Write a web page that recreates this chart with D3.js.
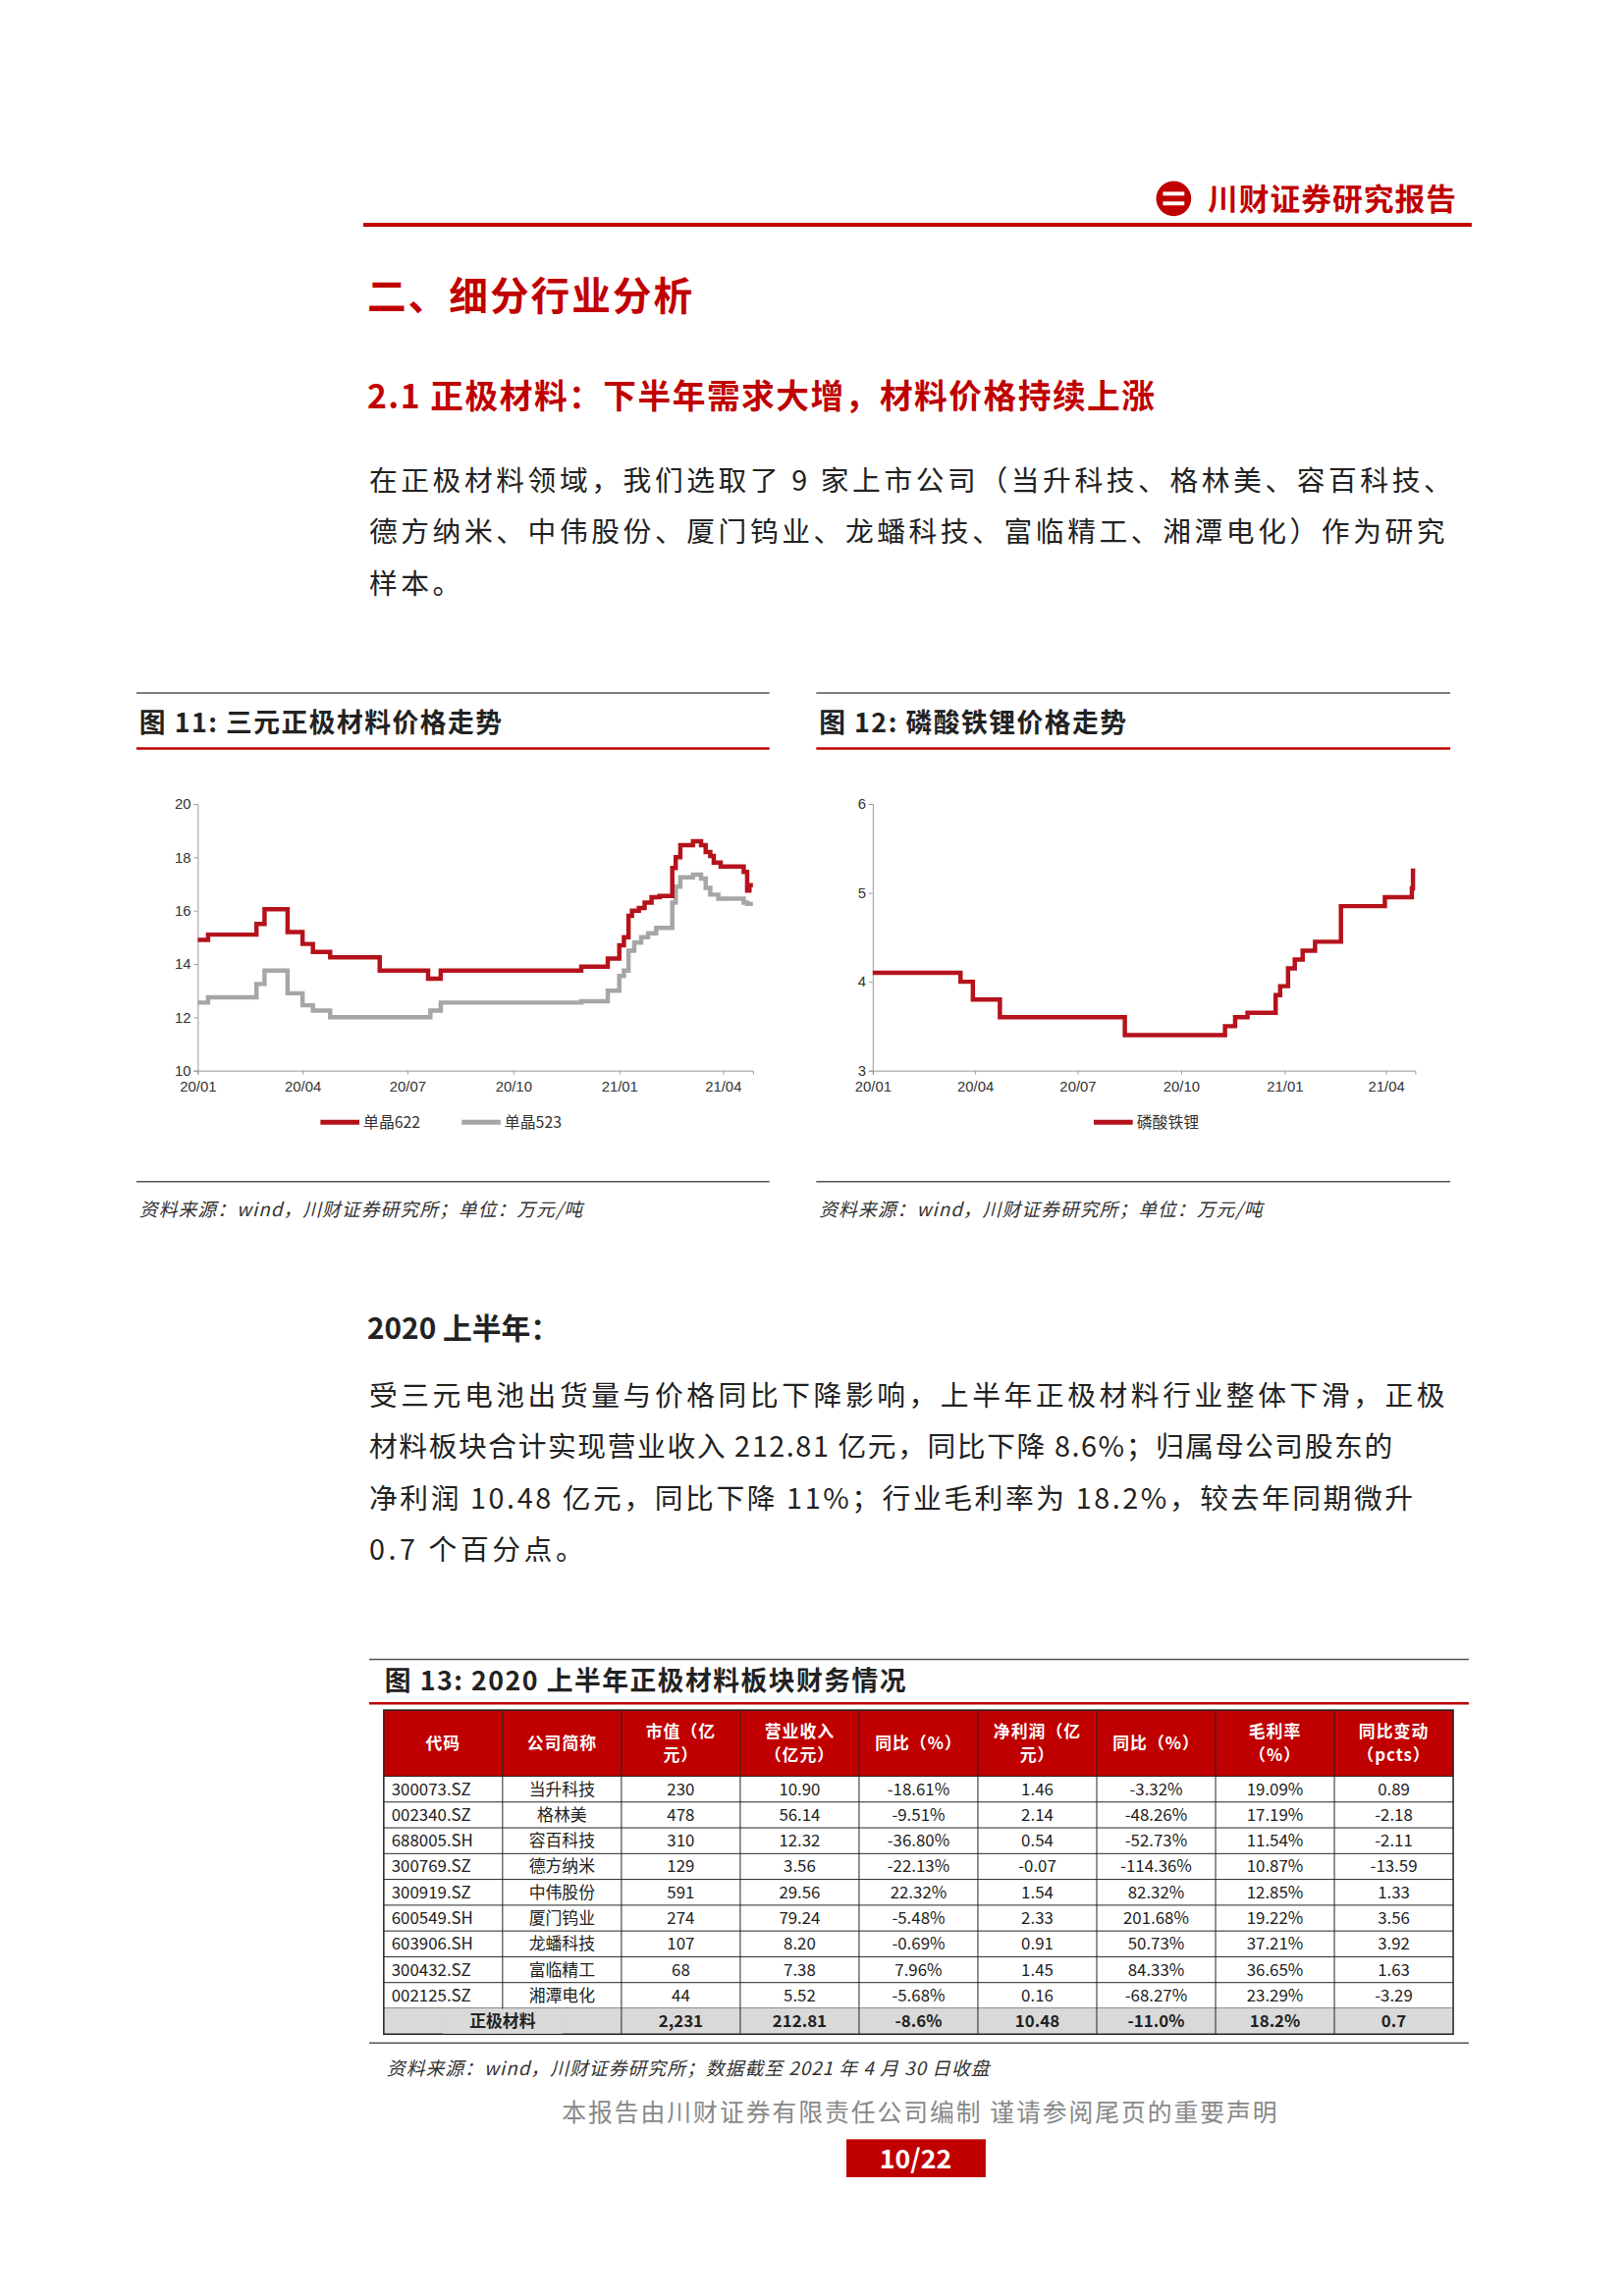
<!DOCTYPE html><html><head><meta charset="utf-8"><script src="https://cdn.jsdelivr.net/npm/d3@7"></script>
<style>body{margin:0;background:#fff}svg{font-family:"Noto Sans CJK SC","Noto Sans",sans-serif}</style></head><body>
<svg id="s0" width="1654" height="2339"><g id="s" transform="translate(0,2) scale(0.992,0.9915)"></g></svg>
<script>
const ticks=["20/01","20/04","20/07","20/10","21/01","21/04"];
const tickDates=["2020-01-01","2020-04-01","2020-07-01","2020-10-01","2021-01-01","2021-04-01"];
const d622=[["2020-01-01",14.9],["2020-01-10",15.1],["2020-02-21",15.5],["2020-02-28",16.05],["2020-03-19",15.2],["2020-04-01",14.75],["2020-04-10",14.45],["2020-04-25",14.25],["2020-06-07",13.75],["2020-07-19",13.45],["2020-07-30",13.75],["2020-11-29",13.9],["2020-12-22",14.2],["2021-01-01",14.7],["2021-01-05",15.0],["2021-01-09",15.8],["2021-01-12",16.0],["2021-01-18",16.1],["2021-01-23",16.3],["2021-01-29",16.5],["2021-02-05",16.55],["2021-02-16",17.6],["2021-02-19",18.0],["2021-02-23",18.45],["2021-03-06",18.6],["2021-03-13",18.45],["2021-03-17",18.2],["2021-03-21",18.05],["2021-03-24",17.8],["2021-03-30",17.65],["2021-04-19",17.45],["2021-04-22",16.75],["2021-04-24",16.95],["2021-04-27",16.95]];
const d523=[["2020-01-01",12.55],["2020-01-10",12.75],["2020-02-21",13.25],["2020-02-28",13.75],["2020-03-19",12.9],["2020-04-01",12.45],["2020-04-10",12.25],["2020-04-25",12.0],["2020-07-21",12.25],["2020-07-30",12.55],["2020-11-29",12.6],["2020-12-22",13.0],["2021-01-01",13.55],["2021-01-05",13.75],["2021-01-09",14.5],["2021-01-14",14.8],["2021-01-20",15.0],["2021-01-26",15.15],["2021-02-02",15.35],["2021-02-16",16.3],["2021-02-19",16.9],["2021-02-23",17.25],["2021-03-06",17.35],["2021-03-13",17.2],["2021-03-17",16.85],["2021-03-21",16.6],["2021-03-28",16.45],["2021-04-19",16.3],["2021-04-22",16.25],["2021-04-27",16.25]];
const dLFP=[["2020-01-01",4.1],["2020-03-19",4.0],["2020-03-30",3.8],["2020-04-23",3.6],["2020-08-12",3.4],["2020-11-09",3.5],["2020-11-18",3.6],["2020-11-29",3.65],["2020-12-24",3.85],["2020-12-28",3.95],["2021-01-04",4.15],["2021-01-10",4.25],["2021-01-17",4.35],["2021-01-28",4.45],["2021-02-20",4.85],["2021-03-31",4.95],["2021-04-24",5.05],["2021-04-25",5.25],["2021-04-27",5.25]];
const tblHead=["代码","公司简称","市值（亿\n元）","营业收入\n（亿元）","同比（%）","净利润（亿\n元）","同比（%）","毛利率\n（%）","同比变动\n（pcts）"];
const tblRows=[["300073.SZ","当升科技","230","10.90","-18.61%","1.46","-3.32%","19.09%","0.89"],
["002340.SZ","格林美","478","56.14","-9.51%","2.14","-48.26%","17.19%","-2.18"],
["688005.SH","容百科技","310","12.32","-36.80%","0.54","-52.73%","11.54%","-2.11"],
["300769.SZ","德方纳米","129","3.56","-22.13%","-0.07","-114.36%","10.87%","-13.59"],
["300919.SZ","中伟股份","591","29.56","22.32%","1.54","82.32%","12.85%","1.33"],
["600549.SH","厦门钨业","274","79.24","-5.48%","2.33","201.68%","19.22%","3.56"],
["603906.SH","龙蟠科技","107","8.20","-0.69%","0.91","50.73%","37.21%","3.92"],
["300432.SZ","富临精工","68","7.38","7.96%","1.45","84.33%","36.65%","1.63"],
["002125.SZ","湘潭电化","44","5.52","-5.68%","0.16","-68.27%","23.29%","-3.29"]];
const tblTotal=["正极材料","2,231","212.81","-8.6%","10.48","-11.0%","18.2%","0.7"];

const RED="#c00000", svg=d3.select("#s");
function txt(x,y,t,o={}){const e=svg.append("text").attr("x",x).attr("y",y).text(t).attr("font-size",o.s||28).attr("fill",o.c||"#222").attr("font-weight",o.w||"normal").attr("text-anchor",o.a||"start");if(o.i)e.attr("font-style","italic");if(o.ls)e.attr("letter-spacing",o.ls);return e;}
function line(x1,y1,x2,y2,c,w){svg.append("line").attr("x1",x1).attr("y1",y1).attr("x2",x2).attr("y2",y2).attr("stroke",c).attr("stroke-width",w);}
// header
svg.append("circle").attr("cx",1205).attr("cy",202).attr("r",18).attr("fill",RED);
svg.append("rect").attr("x",1194).attr("y",195).attr("width",22).attr("height",4).attr("fill","#fff");
svg.append("rect").attr("x",1194).attr("y",205).attr("width",22).attr("height",4).attr("fill","#fff");
txt(1240,214,"川财证券研究报告",{s:31,c:RED,w:"bold",ls:1});
line(373,229,1511,229,RED,4);
txt(377,317,"二、细分行业分析",{s:40,c:RED,w:"bold",ls:2});
txt(377,418,"2.1 正极材料：下半年需求大增，材料价格持续上涨",{s:34,c:RED,w:"bold",ls:1.5});
["在正极材料领域，我们选取了 9 家上市公司（当升科技、格林美、容百科技、","德方纳米、中伟股份、厦门钨业、龙蟠科技、富临精工、湘潭电化）作为研究","样本。"].forEach((t,i)=>txt(379,502+i*53,t,{s:29,ls:3.6}));
// figure frames
function frame(x1,x2,title){line(x1,710,x2,710,"#555",1.5);txt(x1+3,750,title,{s:27,w:"bold",ls:1.5});line(x1,767,x2,767,RED,2.5);line(x1,1212,x2,1212,"#555",1.5);txt(x1+3,1248,"资料来源：wind，川财证券研究所；单位：万元/吨",{s:19,i:1,c:"#333",ls:1});}
frame(140,790,"图 11:   三元正极材料价格走势");frame(838,1489,"图 12:   磷酸铁锂价格走势");
const pd=d3.timeParse("%Y-%m-%d");
function chart(L,R,T,B,dom,tk,series,legend,lcx){
  const x=d3.scaleTime().domain([pd("2020-01-01"),pd("2021-04-27")]).range([L,R]);
  const y=d3.scaleLinear().domain(dom).range([B,T]);
  const g=svg.append("g");
  g.append("g").attr("transform",`translate(${L},0)`).call(d3.axisLeft(y).tickValues(tk).tickSize(4).tickFormat(d3.format("d"))).call(a=>{a.selectAll("text").attr("font-size",15).attr("fill","#333");a.selectAll("line,path").attr("stroke","#999");});
  g.append("g").attr("transform",`translate(0,${B})`).call(d3.axisBottom(x).tickValues(tickDates.map(pd)).tickSize(4).tickFormat((d,i)=>ticks[i])).call(a=>{a.selectAll("text").attr("font-size",15).attr("fill","#333").attr("dy","1em");a.selectAll("line,path").attr("stroke","#999");});
  const ln=d3.line().x(d=>x(pd(d[0]))).y(d=>y(d[1])).curve(d3.curveStepAfter);
  series.forEach(s=>g.append("path").attr("d",ln(s.d)).attr("fill","none").attr("stroke",s.c).attr("stroke-width",4.5));
  let tw=legend.reduce((a,s)=>a+50+s.n.length*15+20,0), lx=lcx-tw/2;
  legend.forEach(s=>{line(lx,1151,lx+40,1151,s.c,5);txt(lx+44,1157,s.n,{s:16,c:"#333"});lx+=50+s.n.length*15+20;});
}
chart(203,773,824,1098,[10,20],[10,12,14,16,18,20],[{d:d523,c:"#a6a6a6"},{d:d622,c:"#b5121b"}],[{n:"单晶622",c:"#b5121b"},{n:"单晶523",c:"#a6a6a6"}],474);
chart(896,1453,824,1098,[3,6],[3,4,5,6],[{d:dLFP,c:"#b5121b"}],[{n:"磷酸铁锂",c:"#b5121b"}],1188);
// section 2
txt(377,1374,"2020 上半年：",{s:30,w:"bold"});
["受三元电池出货量与价格同比下降影响，上半年正极材料行业整体下滑，正极","材料板块合计实现营业收入 212.81 亿元，同比下降 8.6%；归属母公司股东的","净利润 10.48 亿元，同比下降 11%；行业毛利率为 18.2%，较去年同期微升","0.7 个百分点。"].forEach((t,i)=>txt(379,1442+i*53,t,{s:29,ls:i==1?1.6:(i==2?2.6:3.6)}));
// table
line(379,1703,1508,1703,"#555",1.5);
txt(395,1735,"图 13:   2020 上半年正极材料板块财务情况",{s:27,w:"bold",ls:1.5});
line(379,1748,1508,1748,RED,2.5);
const TL=394,TR=1492,TT=1755,HH=68,RH=26.5,cw=(TR-TL)/9;
svg.append("rect").attr("x",TL).attr("y",TT).attr("width",TR-TL).attr("height",HH).attr("fill",RED);
tblHead.forEach((h,i)=>{const ls=h.split("\n");ls.forEach((l,j)=>txt(TL+cw*i+cw/2,TT+HH/2+6+(j-(ls.length-1)/2)*24,l,{s:17,c:"#fff",w:"bold",a:"middle",ls:1}));});
tblRows.forEach((r,ri)=>{const y0=TT+HH+ri*RH;r.forEach((v,ci)=>txt(ci==0?TL+8:TL+cw*ci+cw/2,y0+RH/2+6,v,{s:17,a:ci==0?"start":"middle"}));line(TL,y0+RH,TR,y0+RH,"#222",1);});
const yT=TT+HH+9*RH;
svg.append("rect").attr("x",TL).attr("y",yT).attr("width",TR-TL).attr("height",RH).attr("fill","#d9d9d9");
txt(TL+cw,yT+RH/2+6,tblTotal[0],{s:17,w:"bold",a:"middle"});
tblTotal.slice(1).forEach((v,i)=>txt(TL+cw*(i+2)+cw/2,yT+RH/2+6,v,{s:17,w:"bold",a:"middle"}));
svg.append("rect").attr("x",TL).attr("y",TT).attr("width",TR-TL).attr("height",yT+RH-TT).attr("fill","none").attr("stroke","#222").attr("stroke-width",1.5);
for(let i=1;i<9;i++){line(TL+cw*i,TT,TL+cw*i,yT+RH,"#222",1);}
svg.append("rect").attr("x",TL+cw*0.5).attr("y",yT+0.5).attr("width",cw).attr("height",RH-1).attr("fill","#d9d9d9");
txt(TL+cw,yT+RH/2+6,tblTotal[0],{s:17,w:"bold",a:"middle"});
line(TL,TT+HH,TR,TT+HH,"#222",1);
line(379,2097,1508,2097,"#555",1.5);
txt(397,2130,"资料来源：wind，川财证券研究所；数据截至 2021 年 4 月 30 日收盘",{s:19,i:1,c:"#333",ls:1});
// footer
txt(945,2178,"本报告由川财证券有限责任公司编制  谨请参阅尾页的重要声明",{s:25,c:"#888",a:"middle",ls:2});
svg.append("rect").attr("x",869).attr("y",2196).attr("width",143).attr("height",39).attr("fill",RED);
txt(940,2226,"10/22",{s:27,c:"#fff",w:"bold",a:"middle"});
</script></body></html>
